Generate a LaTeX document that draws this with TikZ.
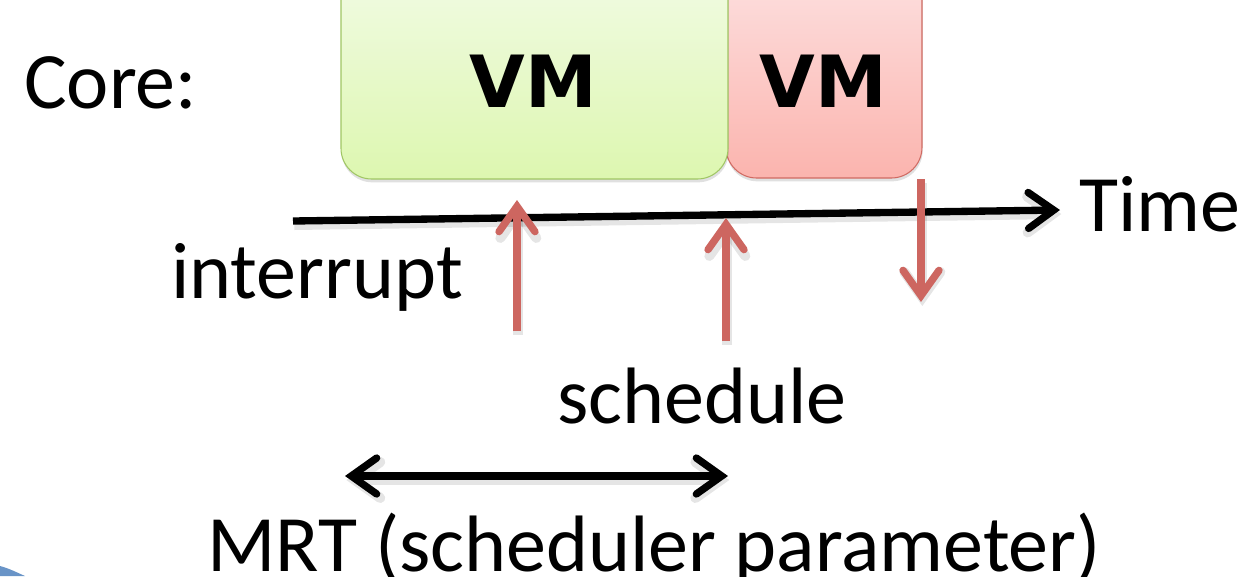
\documentclass[tikz,border=0pt]{standalone}
\usepackage{fontspec}
\setmainfont{Carlito}
\newfontfamily\vmfont{DejaVu Sans}
\usetikzlibrary{arrows.meta}
\definecolor{arrred}{RGB}{205,102,96}
\definecolor{gtop}{RGB}{242,251,230}
\definecolor{gbot}{RGB}{221,247,176}
\definecolor{gline}{RGB}{160,198,100}
\definecolor{rtop}{RGB}{253,226,226}
\definecolor{rbot}{RGB}{251,180,174}
\definecolor{rline}{RGB}{208,106,98}
\definecolor{slideblue}{RGB}{79,129,189}
\tikzset{
  lbl/.style={anchor=base west, inner sep=0pt, font=\fontsize{60}{72}\selectfont},
  vmlbl/.style={anchor=base, inner sep=0pt, font=\vmfont\bfseries\fontsize{54}{60}\selectfont},
  barb/.tip={Straight Barb[length=19pt,width=27pt,line cap=round]},
  lineshadow/.style={preaction={draw=black, opacity=0.10, line width=7.5pt,
      transform canvas={xshift=1pt, yshift=-3pt}}},
  evarrow/.style={draw=arrred, line width=5.5pt, -barb, lineshadow},
  blackarrow/.style={draw=black, line width=5.5pt, lineshadow},
  boxshadow/.style={preaction={fill=black, opacity=0.12,
      transform canvas={xshift=0.5pt, yshift=-2.5pt}}},
  vmbox/.style={rounded corners=23pt, line width=0.8pt, boxshadow}
}
\begin{document}
\begin{tikzpicture}[x=0.75pt,y=-0.75pt]
\useasboundingbox (0,0) rectangle (1243,576);
\clip (0,0) rectangle (1243,576);
\fill[white] (0,0) rectangle (1243,576);
% slide decoration
\fill[slideblue!85] (0,576) -- (0,566) .. controls (8,568) and (16,572) .. (25,576) -- cycle;
% VM boxes
\draw[vmbox, draw=rline, top color=rtop, bottom color=rbot] (726,-40) rectangle (922,178);
\draw[vmbox, draw=gline, top color=gtop, bottom color=gbot] (341,-40) rectangle (728,179);
\node[vmlbl] (vm1) at (533,107) {VM};
\node[vmlbl] (vm2) at (823,107) {VM};
% labels
\node[lbl] (core) at (24,108) {Core:};
\node[lbl] (time) at (1079,231) {Time};
\node[lbl] (intr) at (171,298) {interrupt};
\node[lbl] (sched) at (557,423) {schedule};
\node[lbl] (mrt) at (207,571) {MRT (scheduler parameter)};
% time axis
\coordinate (t0) at (293,221);
\coordinate (t1) at (1060,210);
\draw[blackarrow, -barb] (t0) -- (t1);
% event arrows
\coordinate (a1s) at (517,331);
\coordinate (a1e) at (517,200);
\coordinate (a2s) at (726,341);
\coordinate (a2e) at (726,218);
\coordinate (a3s) at (921,179);
\coordinate (a3e) at (921,302);
\draw[evarrow] (a1s) -- (a1e);
\draw[evarrow] (a2s) -- (a2e);
\draw[evarrow] (a3s) -- (a3e);
% MRT span
\coordinate (m0) at (345,476);
\coordinate (m1) at (728,476);
\draw[blackarrow, barb-barb] (m0) -- (m1);
\end{tikzpicture}
\end{document}
